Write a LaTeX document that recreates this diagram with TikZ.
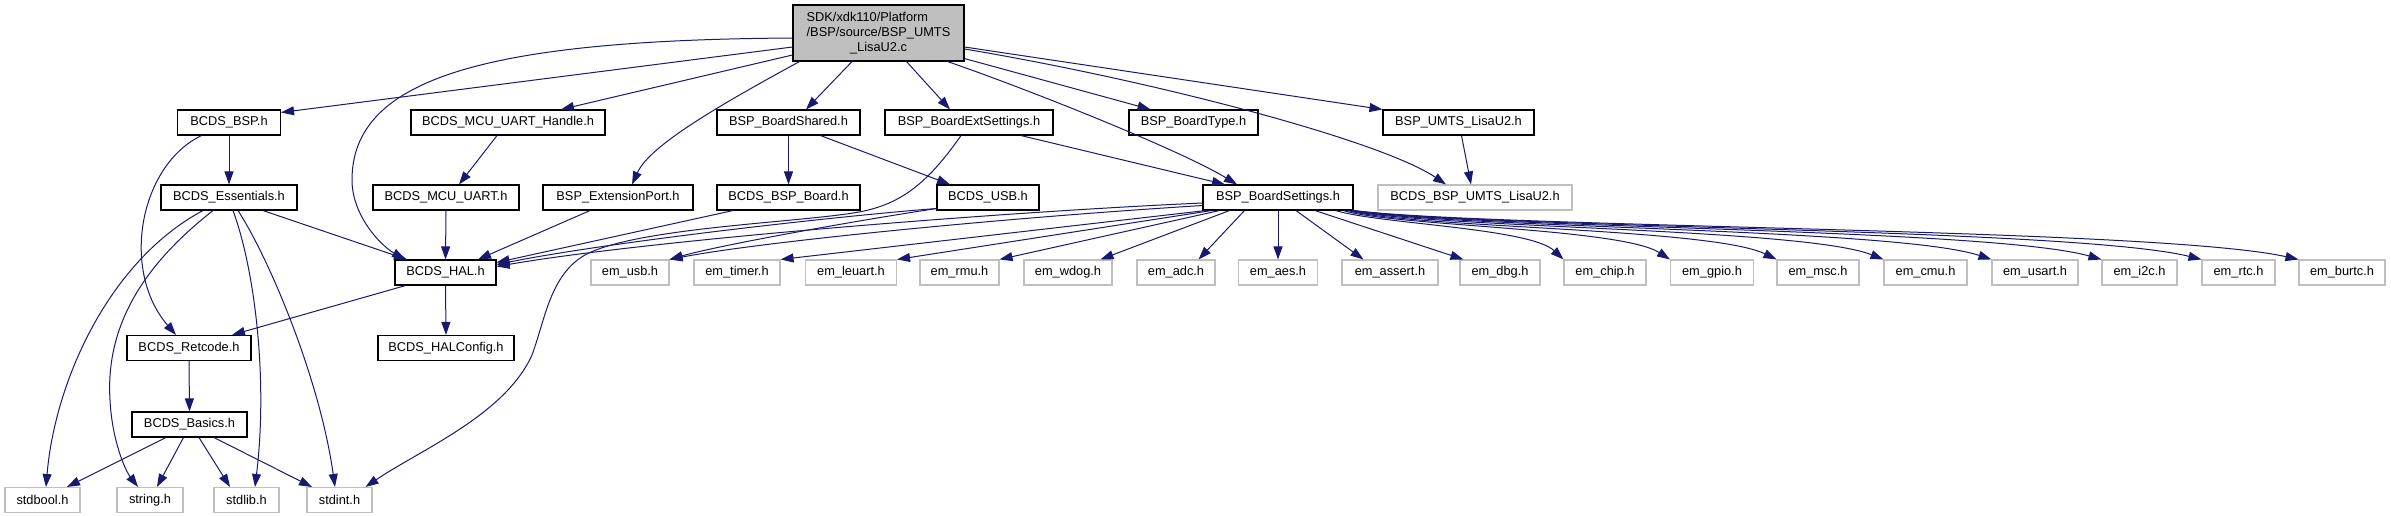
\documentclass[tikz,border=0pt]{standalone}
\usepackage{fontspec}
\setmainfont{Liberation Sans}
\usetikzlibrary{arrows.meta}
\definecolor{edgec}{HTML}{191970}
\definecolor{greyc}{HTML}{BFBFBF}
\begin{document}
\begin{tikzpicture}[x=1pt,y=-1pt,
  nbox/.style={draw=black,line width=1.1pt,fill=white,minimum height=25pt,inner sep=0pt,font=\fontsize{12.8}{15}\selectfont},
  gbox/.style={nbox,draw=greyc},
  edge/.style={draw=edgec,line width=1pt,-{Triangle[length=13pt,width=9pt]}}]
\useasboundingbox[fill=white] (0,0) rectangle (2391,515);
% row 0
\node[nbox,fill=greyc,minimum width=171pt,minimum height=56pt] (main) at (878.5,33)
  {\begin{tabular}{@{}l@{}}SDK/xdk110/Platform\\/BSP/source/BSP\_UMTS\\\multicolumn{1}{@{}c@{}}{\_LisaU2.c}\end{tabular}};
% row 1
\node[nbox,minimum width=103pt] (bsp) at (229,122.5) {BCDS\_BSP.h};
\node[nbox,minimum width=194pt] (uarth) at (508,122.5) {BCDS\_MCU\_UART\_Handle.h};
\node[nbox,minimum width=143pt] (bshared) at (788.5,122.5) {BSP\_BoardShared.h};
\node[nbox,minimum width=168pt] (bext) at (969,122.5) {BSP\_BoardExtSettings.h};
\node[nbox,minimum width=129pt] (btype) at (1193.5,122.5) {BSP\_BoardType.h};
\node[nbox,minimum width=151pt] (bumts) at (1458.5,122.5) {BSP\_UMTS\_LisaU2.h};
% row 2
\node[nbox,minimum width=136pt] (ess) at (229,197.5) {BCDS\_Essentials.h};
\node[nbox,minimum width=146pt] (uart) at (446,197.5) {BCDS\_MCU\_UART.h};
\node[nbox,minimum width=150pt] (extp) at (618,197.5) {BSP\_ExtensionPort.h};
\node[nbox,minimum width=143pt] (bboard) at (788.5,197.5) {BCDS\_BSP\_Board.h};
\node[nbox,minimum width=102pt] (usb) at (988,197.5) {BCDS\_USB.h};
\node[nbox,minimum width=150pt] (bset) at (1278,197.5) {BSP\_BoardSettings.h};
\node[gbox,minimum width=194pt] (bcumts) at (1475,197.5) {BCDS\_BSP\_UMTS\_LisaU2.h};
% row 3
\node[nbox,minimum width=101pt] (hal) at (445.5,272.5) {BCDS\_HAL.h};
\node[gbox,minimum width=78pt] (emusb) at (630,272.5) {em\_usb.h};
\node[gbox,minimum width=86pt] (emtimer) at (737,272.5) {em\_timer.h};
\node[gbox,minimum width=91pt] (emleuart) at (851,272.5) {em\_leuart.h};
\node[gbox,minimum width=79pt] (emrmu) at (959.5,272.5) {em\_rmu.h};
\node[gbox,minimum width=88pt] (emwdog) at (1068,272.5) {em\_wdog.h};
\node[gbox,minimum width=78pt] (emadc) at (1176,272.5) {em\_adc.h};
\node[gbox,minimum width=79pt] (emaes) at (1278,272.5) {em\_aes.h};
\node[gbox,minimum width=96pt] (emassert) at (1390,272.5) {em\_assert.h};
\node[gbox,minimum width=80pt] (emdbg) at (1500,272.5) {em\_dbg.h};
\node[gbox,minimum width=82pt] (emchip) at (1605,272.5) {em\_chip.h};
\node[gbox,minimum width=83pt] (emgpio) at (1712,272.5) {em\_gpio.h};
\node[gbox,minimum width=82pt] (emmsc) at (1818,272.5) {em\_msc.h};
\node[gbox,minimum width=83pt] (emcmu) at (1925.5,272.5) {em\_cmu.h};
\node[gbox,minimum width=86pt] (emusart) at (2035,272.5) {em\_usart.h};
\node[gbox,minimum width=75pt] (emi2c) at (2139.5,272.5) {em\_i2c.h};
\node[gbox,minimum width=73pt] (emrtc) at (2238.5,272.5) {em\_rtc.h};
\node[gbox,minimum width=86pt] (emburtc) at (2342,272.5) {em\_burtc.h};
% row 4-6
\node[nbox,minimum width=124pt] (ret) at (189,348) {BCDS\_Retcode.h};
\node[nbox,minimum width=136pt] (halcfg) at (446,348) {BCDS\_HALConfig.h};
\node[nbox,minimum width=115pt] (basics) at (189.5,424.5) {BCDS\_Basics.h};
\node[gbox,minimum width=75pt] (stdbool) at (42.5,500) {stdbool.h};
\node[gbox,minimum width=66pt] (stringh) at (150,500) {string.h};
\node[gbox,minimum width=65pt] (stdlib) at (246.5,500) {stdlib.h};
\node[gbox,minimum width=65pt] (stdint) at (339.5,500) {stdint.h};
% edges from main
\draw[edge] ([yshift=-14pt]main.west) -- ([yshift=-3pt]bsp.north east);
\draw[edge] ([yshift=-22pt]main.west) -- ([xshift=53pt]uarth.north);
\draw[edge] ([yshift=-5pt]main.west) .. controls (480,40) and (352,80) .. (352,180) .. controls (352,215) and (380,245) .. ([xshift=-40.5pt]hal.north);
\draw[edge] ([xshift=7pt]main.south west) .. controls (720,105) and (650,145) .. ([xshift=14pt]extp.north);
\draw[edge] ([xshift=-26.5pt]main.south) -- ([xshift=17.5pt]bshared.north);
\draw[edge] ([xshift=28pt]main.south) -- ([xshift=-19pt]bext.north);
\draw[edge] ([xshift=-17pt]main.south east) .. controls (1030,90) and (1180,150) .. ([xshift=-41pt]bset.north);
\draw[edge] ([yshift=3pt]main.south east) -- ([xshift=-43pt]btype.north);
\draw[edge] ([yshift=-14pt]main.east) -- (bumts.north west);
\draw[edge] ([yshift=-16pt]main.east) .. controls (1150,80) and (1380,140) .. ([xshift=-29pt]bcumts.north);
% row 1 sources
\draw[edge] (bsp.south) -- (ess.north);
\draw[edge] ([xshift=-27.5pt]bsp.south) .. controls (140,165) and (120,270) .. ([xshift=-13pt]ret.north);
\draw[edge] ([xshift=-11pt]uarth.south) -- ([xshift=13pt]uart.north);
\draw[edge] (bshared.south) -- (bboard.north);
\draw[edge] ([xshift=32pt]bshared.south) -- ([xshift=-38pt]usb.north);
\draw[edge] ([xshift=52pt]bext.south) -- ([xshift=-53pt]bset.north);
\draw[edge] ([xshift=-8pt]bext.south) .. controls (930,180) and (905,200) .. (872,209)
   .. controls (830,222) and (640,225) .. (585,255) .. controls (550,275) and (545,320) .. (532,355)
   .. controls (505,415) and (420,450) .. ([xshift=26pt]stdint.north);
\draw[edge] ([xshift=3pt]bumts.south) -- ([xshift=-4pt]bcumts.north);
% row 2 sources
\draw[edge] (uart.south) -- (hal.north);
\draw[edge] ([xshift=-28pt]extp.south) -- ([xshift=32.5pt]hal.north);
\draw[edge] ([xshift=-55.5pt]bboard.south) -- ([yshift=10pt]hal.east);
\draw[edge] ([yshift=2pt]usb.south west) .. controls (860,214) and (620,240) .. ([yshift=8pt]hal.east);
\draw[edge] ([yshift=2pt]usb.south west) .. controls (860,220) and (720,245) .. (emusb.north east);
\draw[edge] ([xshift=34pt]ess.south) -- ([xshift=-38.5pt]hal.north);
\draw[edge] ([xshift=-26pt]ess.south) .. controls (110,260) and (55,380) .. ([xshift=3.5pt]stdbool.north);
\draw[edge] ([xshift=-16pt]ess.south) .. controls (150,260) and (105,320) .. (110,400) .. controls (112,440) and (125,470) .. ([xshift=-12pt]stringh.north);
\draw[edge] ([xshift=4pt]ess.south) .. controls (255,270) and (268,380) .. ([xshift=8.5pt]stdlib.north);
\draw[edge] ([xshift=9pt]ess.south) .. controls (270,260) and (320,380) .. ([xshift=-4.5pt]stdint.north);
% BSP_BoardSettings
\draw[edge] ([yshift=-5.5pt]bset.west) .. controls (1000,212) and (650,240) .. ([yshift=6pt]hal.east);
\draw[edge] ([yshift=-8pt]bset.west) .. controls (1000,218) and (760,242) .. (emusb.north east);
\draw[edge] ([xshift=3pt]bset.south west) -- (emtimer.north east);
\draw[edge] ([xshift=9pt]bset.south west) -- (emleuart.north east);
\draw[edge] ([xshift=17pt]bset.south west) -- (emrmu.north east);
\draw[edge] ([xshift=27pt]bset.south west) -- ([xshift=-12pt]emwdog.north east);
\draw[edge] ([xshift=42pt]bset.south west) -- ([xshift=-17pt]emadc.north east);
\draw[edge] (bset.south) -- (emaes.north);
\draw[edge] ([xshift=18pt]bset.south) -- ([xshift=22pt]emassert.north west);
\draw[edge] ([xshift=37pt]bset.south) -- ([xshift=4pt]emdbg.north west);
\draw[edge] ([xshift=-18pt]bset.south east) .. controls (1380,224) and (1530,228) .. (emchip.north west);
\draw[edge] ([xshift=-10pt]bset.south east) .. controls (1392,226) and (1621,228) .. (emgpio.north west);
\draw[edge] ([xshift=-6pt]bset.south east) .. controls (1412,228) and (1712,228) .. (emmsc.north west);
\draw[edge] ([xshift=-4pt]bset.south east) .. controls (1430,228) and (1804,228) .. (emcmu.north west);
\draw[edge] ([xshift=-2pt]bset.south east) .. controls (1447,228) and (1896,228) .. (emusart.north west);
\draw[edge] ([xshift=-1pt]bset.south east) .. controls (1464,228) and (1990,228) .. (emi2c.north west);
\draw[edge] (bset.south east) .. controls (1480,228) and (2075,228) .. (emrtc.north west);
\draw[edge] (bset.south east) .. controls (1495,228) and (2157,228) .. (emburtc.north west);
% lower part
\draw[edge] ([xshift=-40pt]hal.south) -- ([xshift=43pt]ret.north);
\draw[edge] (hal.south) -- (halcfg.north);
\draw[edge] (ret.south) -- (basics.north);
\draw[edge] ([xshift=-23.5pt]basics.south) -- ([xshift=24.5pt]stdbool.north);
\draw[edge] ([xshift=-6pt]basics.south) -- ([xshift=7pt]stringh.north);
\draw[edge] ([xshift=9.5pt]basics.south) -- ([xshift=-16.5pt]stdlib.north);
\draw[edge] ([xshift=24.5pt]basics.south) -- ([xshift=-27.5pt]stdint.north);
\end{tikzpicture}
\end{document}
